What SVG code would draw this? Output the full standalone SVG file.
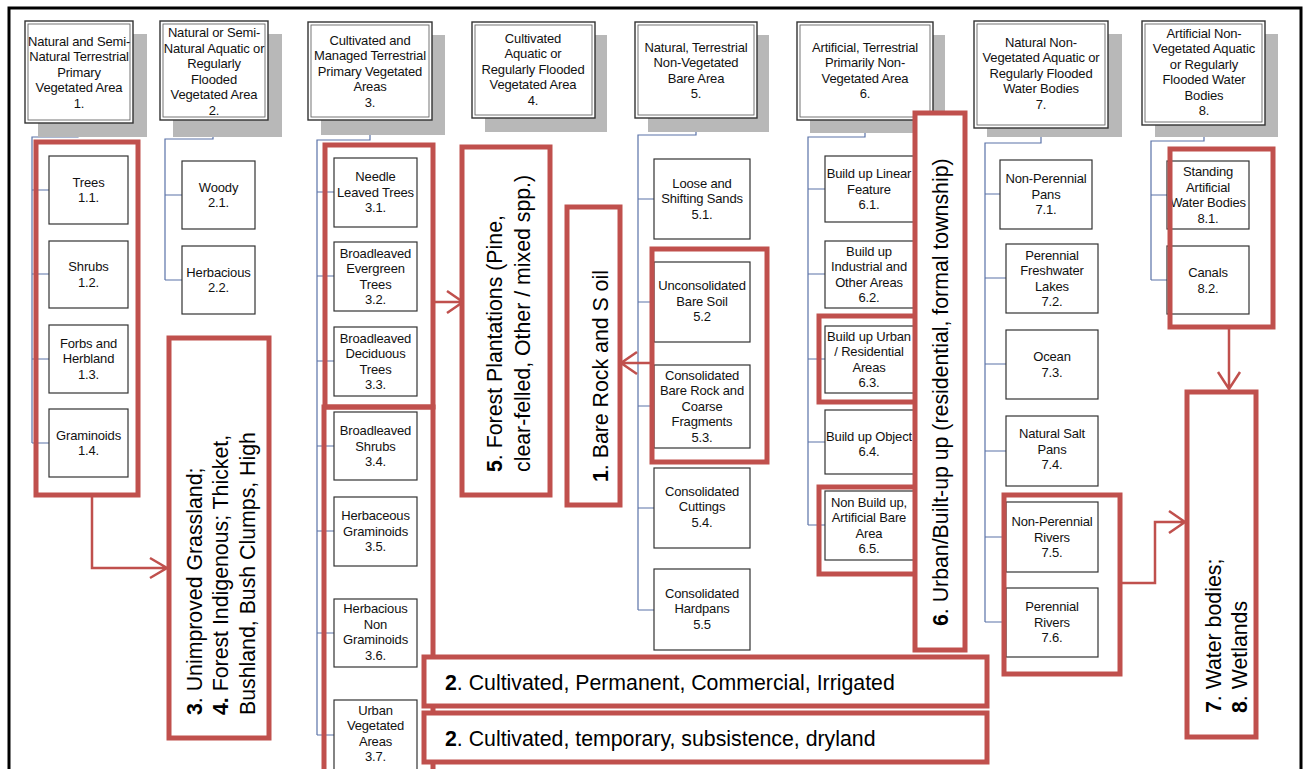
<svg xmlns="http://www.w3.org/2000/svg" width="1306" height="769" viewBox="0 0 1306 769">
<defs>
<style>
.frame{fill:none;stroke:#000;stroke-width:3}
.shadow{fill:#b8b8b8}
.hdr{fill:#fff;stroke:#333;stroke-width:1.4}
.hdr-in{fill:none;stroke:#666;stroke-width:0.9}
.box{fill:#fff;stroke:#333;stroke-width:1.2}
.t{font-family:"Liberation Sans",Arial,sans-serif;font-size:13px;fill:#111;text-anchor:middle;letter-spacing:-0.15px}
.conn{fill:none;stroke:#5a72a8;stroke-width:1.2}
.red{fill:none;stroke:#c0504d;stroke-width:5}
.redw{fill:#fff;stroke:#c0504d;stroke-width:5}
.arrow{fill:none;stroke:#c0504d;stroke-width:2.5}
.big{font-family:"Liberation Sans",Arial,sans-serif;font-size:21.3px;fill:#000}
.b{font-weight:bold}
</style>
</defs>

<rect width="1306" height="769" fill="#fff"/>
<path class="frame" d="M9,769 V8 H1301 V769"/>

<!-- connectors from class headers to their sub-classes -->
<g id="connectors">
<path class="conn" d="M78,123 V137 H32 V443 M32,190 H49 M32,274 H49 M32,359 H49 M32,443 H49"/>
<path class="conn" d="M213,120 V139 H165 V280 M165,195 H182 M165,280 H182"/>
<path class="conn" d="M370,120 V140 H317 V735 M317,192 H334 M317,276 H334 M317,361 H334 M317,446 H334 M317,531 H334 M317,633 H334 M317,735 H334"/>
<path class="conn" d="M696,118 V135 H638 V610 M638,199 H654 M638,302 H654 M638,406 H654 M638,508 H654 M638,610 H654"/>
<path class="conn" d="M865,120 V137 H808 V525 M808,189 H825 M808,274 H825 M808,359 H825 M808,442 H825 M808,525 H825"/>
<path class="conn" d="M1041,128 V143 H985 V622 M985,194 H1000 M985,278 H1006 M985,364 H1006 M985,451 H1006 M985,537 H1006 M985,622 H1006"/>
<path class="conn" d="M1204,125 V141 H1151 V280 M1151,195 H1167 M1151,280 H1167"/>
</g>

<!-- level 1 class headers -->
<g id="h1">
<rect class="shadow" x="38" y="34" width="109" height="103"/>
<rect class="hdr" x="25" y="21" width="108" height="102"/>
<rect class="hdr-in" x="28" y="24" width="102" height="96"/>
<text class="t" x="79"><tspan x="79" y="45.5">Natural and Semi-</tspan><tspan x="79" y="61">Natural Terrestrial</tspan><tspan x="79" y="76.5">Primary</tspan><tspan x="79" y="92">Vegetated Area</tspan><tspan x="79" y="107.5">1.</tspan></text>
</g>
<g id="h2">
<rect class="shadow" x="173" y="34" width="109" height="103"/>
<rect class="hdr" x="160" y="21" width="108" height="99"/>
<rect class="hdr-in" x="163" y="24" width="102" height="93"/>
<text class="t" x="214"><tspan x="214" y="37">Natural or Semi-</tspan><tspan x="214" y="52.5">Natural Aquatic or</tspan><tspan x="214" y="68">Regularly</tspan><tspan x="214" y="83.5">Flooded</tspan><tspan x="214" y="99">Vegetated Area</tspan><tspan x="214" y="114.5">2.</tspan></text>
</g>
<g id="h3">
<rect class="shadow" x="321" y="35" width="124" height="100"/>
<rect class="hdr" x="308" y="22" width="124" height="98"/>
<rect class="hdr-in" x="311" y="25" width="118" height="92"/>
<text class="t" x="370"><tspan x="370" y="44.5">Cultivated and</tspan><tspan x="370" y="60">Managed Terrestrial</tspan><tspan x="370" y="75.5">Primary Vegetated</tspan><tspan x="370" y="91">Areas</tspan><tspan x="370" y="106.5">3.</tspan></text>
</g>
<g id="h4">
<rect class="shadow" x="485" y="35" width="122" height="97"/>
<rect class="hdr" x="472" y="22" width="123" height="96"/>
<rect class="hdr-in" x="475" y="25" width="117" height="90"/>
<text class="t" x="533"><tspan x="533" y="42.5">Cultivated</tspan><tspan x="533" y="58">Aquatic or</tspan><tspan x="533" y="73.5">Regularly Flooded</tspan><tspan x="533" y="89">Vegetated Area</tspan><tspan x="533" y="104.5">4.</tspan></text>
</g>
<g id="h5">
<rect class="shadow" x="648" y="35" width="121" height="97"/>
<rect class="hdr" x="635" y="22" width="122" height="96"/>
<rect class="hdr-in" x="638" y="25" width="116" height="90"/>
<text class="t" x="696"><tspan x="696" y="51.5">Natural, Terrestrial</tspan><tspan x="696" y="67">Non-Vegetated</tspan><tspan x="696" y="82.5">Bare Area</tspan><tspan x="696" y="98">5.</tspan></text>
</g>
<g id="h6">
<rect class="shadow" x="810" y="35" width="135" height="98"/>
<rect class="hdr" x="797" y="22" width="136" height="98"/>
<rect class="hdr-in" x="800" y="25" width="130" height="92"/>
<text class="t" x="865"><tspan x="865" y="51.5">Artificial, Terrestrial</tspan><tspan x="865" y="67">Primarily Non-</tspan><tspan x="865" y="82.5">Vegetated Area</tspan><tspan x="865" y="98">6.</tspan></text>
</g>
<g id="h7">
<rect class="shadow" x="987" y="34" width="135" height="103"/>
<rect class="hdr" x="974" y="21" width="134" height="107"/>
<rect class="hdr-in" x="977" y="24" width="128" height="101"/>
<text class="t" x="1041"><tspan x="1041" y="46.5">Natural Non-</tspan><tspan x="1041" y="62">Vegetated Aquatic or</tspan><tspan x="1041" y="77.5">Regularly Flooded</tspan><tspan x="1041" y="93">Water Bodies</tspan><tspan x="1041" y="108.5">7.</tspan></text>
</g>
<g id="h8">
<rect class="shadow" x="1155" y="34" width="123" height="103"/>
<rect class="hdr" x="1142" y="21" width="123" height="104"/>
<rect class="hdr-in" x="1145" y="24" width="117" height="98"/>
<text class="t" x="1204"><tspan x="1204" y="37.5">Artificial Non-</tspan><tspan x="1204" y="53">Vegetated Aquatic</tspan><tspan x="1204" y="68.5">or Regularly</tspan><tspan x="1204" y="84">Flooded Water</tspan><tspan x="1204" y="99.5">Bodies</tspan><tspan x="1204" y="115">8.</tspan></text>
</g>

<!-- column 1 -->
<g id="n1-1"><rect class="box" x="49" y="156" width="79" height="68"/><text class="t"><tspan x="88.5" y="186.5">Trees</tspan><tspan x="88.5" y="202">1.1.</tspan></text></g>
<g id="n1-2"><rect class="box" x="49" y="241" width="79" height="67"/><text class="t"><tspan x="88.5" y="271">Shrubs</tspan><tspan x="88.5" y="286.5">1.2.</tspan></text></g>
<g id="n1-3"><rect class="box" x="49" y="325" width="79" height="68"/><text class="t"><tspan x="88.5" y="347.5">Forbs and</tspan><tspan x="88.5" y="363">Herbland</tspan><tspan x="88.5" y="378.5">1.3.</tspan></text></g>
<g id="n1-4"><rect class="box" x="49" y="409" width="79" height="68"/><text class="t"><tspan x="88.5" y="439.5">Graminoids</tspan><tspan x="88.5" y="455">1.4.</tspan></text></g>

<!-- column 2 -->
<g id="n2-1"><rect class="box" x="182" y="161" width="73" height="68"/><text class="t"><tspan x="218.5" y="191.5">Woody</tspan><tspan x="218.5" y="207">2.1.</tspan></text></g>
<g id="n2-2"><rect class="box" x="182" y="246" width="73" height="68"/><text class="t"><tspan x="218.5" y="276.5">Herbacious</tspan><tspan x="218.5" y="292">2.2.</tspan></text></g>

<!-- column 3 -->
<g id="n3-1"><rect class="box" x="334" y="158" width="83" height="69"/><text class="t"><tspan x="375.5" y="181">Needle</tspan><tspan x="375.5" y="196.5">Leaved Trees</tspan><tspan x="375.5" y="212">3.1.</tspan></text></g>
<g id="n3-2"><rect class="box" x="334" y="242" width="83" height="69"/><text class="t"><tspan x="375.5" y="257.5">Broadleaved</tspan><tspan x="375.5" y="273">Evergreen</tspan><tspan x="375.5" y="288.5">Trees</tspan><tspan x="375.5" y="304">3.2.</tspan></text></g>
<g id="n3-3"><rect class="box" x="334" y="327" width="83" height="69"/><text class="t"><tspan x="375.5" y="342.5">Broadleaved</tspan><tspan x="375.5" y="358">Deciduous</tspan><tspan x="375.5" y="373.5">Trees</tspan><tspan x="375.5" y="389">3.3.</tspan></text></g>
<g id="n3-4"><rect class="box" x="334" y="412" width="83" height="68"/><text class="t"><tspan x="375.5" y="435">Broadleaved</tspan><tspan x="375.5" y="450.5">Shrubs</tspan><tspan x="375.5" y="466">3.4.</tspan></text></g>
<g id="n3-5"><rect class="box" x="334" y="497" width="83" height="69"/><text class="t"><tspan x="375.5" y="520">Herbaceous</tspan><tspan x="375.5" y="535.5">Graminoids</tspan><tspan x="375.5" y="551">3.5.</tspan></text></g>
<g id="n3-6"><rect class="box" x="334" y="599" width="83" height="68"/><text class="t"><tspan x="375.5" y="613">Herbacious</tspan><tspan x="375.5" y="628.5">Non</tspan><tspan x="375.5" y="644">Graminoids</tspan><tspan x="375.5" y="659.5">3.6.</tspan></text></g>
<g id="n3-7"><rect class="box" x="334" y="700" width="83" height="75"/><text class="t"><tspan x="375.5" y="714.5">Urban</tspan><tspan x="375.5" y="730">Vegetated</tspan><tspan x="375.5" y="745.5">Areas</tspan><tspan x="375.5" y="761">3.7.</tspan></text></g>

<!-- column 5 -->
<g id="n5-1"><rect class="box" x="654" y="159" width="96" height="80"/><text class="t"><tspan x="702" y="187.5">Loose and</tspan><tspan x="702" y="203">Shifting Sands</tspan><tspan x="702" y="218.5">5.1.</tspan></text></g>
<g id="n5-2"><rect class="box" x="654" y="262" width="96" height="80"/><text class="t"><tspan x="702" y="290">Unconsolidated</tspan><tspan x="702" y="305.5">Bare Soil</tspan><tspan x="702" y="321">5.2</tspan></text></g>
<g id="n5-3"><rect class="box" x="654" y="365" width="96" height="83"/><text class="t"><tspan x="702" y="379.5">Consolidated</tspan><tspan x="702" y="395">Bare Rock and</tspan><tspan x="702" y="410.5">Coarse</tspan><tspan x="702" y="426">Fragments</tspan><tspan x="702" y="441.5">5.3.</tspan></text></g>
<g id="n5-4"><rect class="box" x="654" y="468" width="96" height="80"/><text class="t"><tspan x="702" y="495.5">Consolidated</tspan><tspan x="702" y="511">Cuttings</tspan><tspan x="702" y="526.5">5.4.</tspan></text></g>
<g id="n5-5"><rect class="box" x="654" y="569" width="96" height="81"/><text class="t"><tspan x="702" y="597.5">Consolidated</tspan><tspan x="702" y="613">Hardpans</tspan><tspan x="702" y="628.5">5.5</tspan></text></g>

<!-- column 6 -->
<g id="n6-1"><rect class="box" x="825" y="156" width="92" height="66"/><text class="t"><tspan x="869" y="178">Build up Linear</tspan><tspan x="869" y="193.5">Feature</tspan><tspan x="869" y="209">6.1.</tspan></text></g>
<g id="n6-2"><rect class="box" x="825" y="241" width="92" height="67"/><text class="t"><tspan x="869" y="255.5">Build up</tspan><tspan x="869" y="271">Industrial and</tspan><tspan x="869" y="286.5">Other Areas</tspan><tspan x="869" y="302">6.2.</tspan></text></g>
<g id="n6-3"><rect class="box" x="825" y="326" width="92" height="67"/><text class="t"><tspan x="869" y="340.5">Build up Urban</tspan><tspan x="869" y="356">/ Residential</tspan><tspan x="869" y="371.5">Areas</tspan><tspan x="869" y="387">6.3.</tspan></text></g>
<g id="n6-4"><rect class="box" x="825" y="410" width="92" height="64"/><text class="t"><tspan x="869" y="440.5">Build up Object</tspan><tspan x="869" y="456">6.4.</tspan></text></g>
<g id="n6-5"><rect class="box" x="825" y="491" width="92" height="69"/><text class="t"><tspan x="869" y="506.5">Non Build up,</tspan><tspan x="869" y="522">Artificial Bare</tspan><tspan x="869" y="537.5">Area</tspan><tspan x="869" y="553">6.5.</tspan></text></g>

<!-- column 7 -->
<g id="n7-1"><rect class="box" x="1000" y="160" width="92" height="69"/><text class="t"><tspan x="1046" y="183">Non-Perennial</tspan><tspan x="1046" y="198.5">Pans</tspan><tspan x="1046" y="214">7.1.</tspan></text></g>
<g id="n7-2"><rect class="box" x="1006" y="244" width="92" height="69"/><text class="t"><tspan x="1052" y="259.5">Perennial</tspan><tspan x="1052" y="275">Freshwater</tspan><tspan x="1052" y="290.5">Lakes</tspan><tspan x="1052" y="306">7.2.</tspan></text></g>
<g id="n7-3"><rect class="box" x="1006" y="330" width="92" height="69"/><text class="t"><tspan x="1052" y="361">Ocean</tspan><tspan x="1052" y="376.5">7.3.</tspan></text></g>
<g id="n7-4"><rect class="box" x="1006" y="416" width="92" height="70"/><text class="t"><tspan x="1052" y="438">Natural Salt</tspan><tspan x="1052" y="453.5">Pans</tspan><tspan x="1052" y="469">7.4.</tspan></text></g>
<g id="n7-5"><rect class="box" x="1006" y="502" width="92" height="70"/><text class="t"><tspan x="1052" y="526">Non-Perennial</tspan><tspan x="1052" y="541.5">Rivers</tspan><tspan x="1052" y="557">7.5.</tspan></text></g>
<g id="n7-6"><rect class="box" x="1006" y="588" width="92" height="69"/><text class="t"><tspan x="1052" y="611">Perennial</tspan><tspan x="1052" y="626.5">Rivers</tspan><tspan x="1052" y="642">7.6.</tspan></text></g>

<!-- column 8 -->
<g id="n8-1"><rect class="box" x="1167" y="161" width="82" height="68"/><text class="t"><tspan x="1208" y="176">Standing</tspan><tspan x="1208" y="191.5">Artificial</tspan><tspan x="1208" y="207">Water Bodies</tspan><tspan x="1208" y="222.5">8.1.</tspan></text></g>
<g id="n8-2"><rect class="box" x="1167" y="246" width="82" height="68"/><text class="t"><tspan x="1208" y="277">Canals</tspan><tspan x="1208" y="292.5">8.2.</tspan></text></g>

<!-- red groupings -->
<g id="groups">
<rect class="red" x="36" y="142" width="102" height="353"/>
<rect class="red" x="325" y="145" width="108" height="262"/>
<rect class="red" x="324" y="407" width="109" height="390"/>
<rect class="red" x="652" y="249" width="115" height="213"/>
<path class="red" d="M915,316 H819 V402 H915 M915,487 H819 V574 H915"/>
<rect class="red" x="1004" y="495" width="116" height="179"/>
<rect class="red" x="1170" y="149" width="103" height="178"/>
</g>

<!-- red arrows -->
<g id="arrows">
<path class="arrow" d="M92,497 V568 H166 M150,558 L167,568 L150,578"/>
<path class="arrow" d="M435,302 H462 M447,291 L463,302 L447,313"/>
<path class="arrow" d="M650,363 H623 M637,352 L621,363 L637,374"/>
<path class="arrow" d="M1122,583 H1155 V522 H1184 M1169,511 L1185,522 L1169,533"/>
<path class="arrow" d="M1229,329 V388 M1218,372 L1229,389 L1240,372"/>
</g>

<!-- land-cover labels -->
<g id="lbl-34">
<rect class="redw" x="169" y="338" width="100" height="400"/>
<text class="big" transform="rotate(-90)"><tspan x="-715" y="202"><tspan class="b">3</tspan>. Unimproved Grassland;</tspan><tspan x="-715" y="228"><tspan class="b">4.</tspan> Forest Indigenous; Thicket,</tspan><tspan x="-715" y="255">Bushland, Bush Clumps, High</tspan></text>
</g>
<g id="lbl-5">
<rect class="redw" x="462" y="147" width="88" height="348"/>
<text class="big" transform="rotate(-90)"><tspan x="-472" y="502"><tspan class="b">5</tspan>. Forest Plantations (Pine,</tspan><tspan x="-472" y="530">clear-felled, Other / mixed spp.)</tspan></text>
</g>
<g id="lbl-1">
<rect class="redw" x="567" y="207" width="53" height="298"/>
<text class="big" transform="rotate(-90)" x="-482" y="608"><tspan class="b">1</tspan>. Bare Rock and S oil</text>
</g>
<g id="lbl-6">
<rect class="redw" x="915" y="113" width="50" height="537"/>
<text class="big" transform="rotate(-90)" x="-626" y="948"><tspan class="b">6</tspan>. Urban/Built-up up (residential, formal township)</text>
</g>
<g id="lbl-78">
<rect class="redw" x="1187" y="392" width="69" height="345"/>
<text class="big" transform="rotate(-90)"><tspan x="-713" y="1221"><tspan class="b">7</tspan>. Water bodies;</tspan><tspan x="-713" y="1247"><tspan class="b">8</tspan>. Wetlands</tspan></text>
</g>
<g id="lbl-2a">
<rect class="redw" x="424" y="657" width="563" height="49"/>
<text class="big" x="445" y="690"><tspan class="b">2</tspan>. Cultivated, Permanent, Commercial, Irrigated</text>
</g>
<g id="lbl-2b">
<rect class="redw" x="424" y="713" width="563" height="49"/>
<text class="big" x="445" y="746"><tspan class="b">2</tspan>. Cultivated, temporary, subsistence, dryland</text>
</g>
</svg>
